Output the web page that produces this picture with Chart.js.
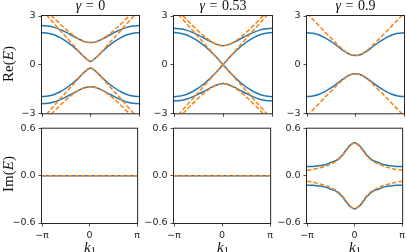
<!DOCTYPE html>
<html>
<head>
<meta charset="utf-8">
<script src="https://cdn.jsdelivr.net/npm/chart.js@4.4.1/dist/chart.umd.min.js"></script>
<style>
  html, body { margin: 0; padding: 0; background: #fff; }
  body { width: 407px; height: 252px; position: relative; overflow: hidden; }
  canvas { position: absolute; }
  .lbl { position: absolute; font-family: "Liberation Serif", "DejaVu Serif", serif; color: #111; white-space: nowrap; }
  .ttl { font-size: 14px; line-height: 14px; text-align: center; word-spacing: 1px; }
  .ylab { font-size: 15px; line-height: 15px; transform: translate(-50%, -50%) rotate(-90deg); }
  .xlab { font-size: 15px; line-height: 15px; transform: translate(-50%, -50%); }
  .xlab sub { font-size: 70%; vertical-align: -2px; line-height: 0; font-style: normal; }
</style>
</head>
<body>
<canvas id="re0"></canvas>
<canvas id="re1"></canvas>
<canvas id="re2"></canvas>
<canvas id="im0"></canvas>
<canvas id="im1"></canvas>
<canvas id="im2"></canvas>

<div class="lbl ttl" style="left:42px;width:97px;top:-1px"><i>γ</i> = 0</div>
<div class="lbl ttl" style="left:174px;width:98px;top:-1px"><i>γ</i> = 0.53</div>
<div class="lbl ttl" style="left:307px;width:97px;top:-1px"><i>γ</i> = 0.9</div>
<div class="lbl ylab" style="left:8px;top:64px">Re(<i>E</i>)</div>
<div class="lbl ylab" style="left:8px;top:174px">Im(<i>E</i>)</div>
<div class="lbl xlab" style="left:90px;top:247px"><i>k</i><sub>1</sub></div>
<div class="lbl xlab" style="left:223px;top:247px"><i>k</i><sub>1</sub></div>
<div class="lbl xlab" style="left:355px;top:247px"><i>k</i><sub>1</sub></div>

<script>
"use strict";

// momentum grid, -pi .. pi
var k = [-3.1416, -2.7489, -2.3562, -1.9635, -1.5708, -1.1781, -0.7854, -0.3927, 0,
          0.3927, 0.7854, 1.1781, 1.5708, 1.9635, 2.3562, 2.7489, 3.1416];
var kTicks = [-3.1416, 0, 3.1416];
var kLabels = ['−π', '0', 'π'];
var reTicks = [-3, 0, 3];
var reLabels = ['−3', '0', '3'];
var imTicks = [-0.6, 0, 0.6];
var imLabels = ['−0.6', '0.0', '0.6'];

// gamma = 0
var g0BlueOuter = [2.41, 2.38, 2.30, 2.16, 1.99, 1.79, 1.59, 1.42, 1.36, 1.42, 1.59, 1.79, 1.99, 2.16, 2.30, 2.38, 2.41];
var g0BlueInner = [1.97, 1.94, 1.84, 1.67, 1.44, 1.16, 0.83, 0.46, 0.20, 0.46, 0.83, 1.16, 1.44, 1.67, 1.84, 1.94, 1.97];
var g0BlueInnerNeg = [-1.97, -1.94, -1.84, -1.67, -1.44, -1.16, -0.83, -0.46, -0.20, -0.46, -0.83, -1.16, -1.44, -1.67, -1.84, -1.94, -1.97];
var g0BlueOuterNeg = [-2.41, -2.38, -2.30, -2.16, -1.99, -1.79, -1.59, -1.42, -1.36, -1.42, -1.59, -1.79, -1.99, -2.16, -2.30, -2.38, -2.41];
var g0OrangeOuter = [3.63, 3.24, 2.87, 2.50, 2.16, 1.85, 1.60, 1.42, 1.36, 1.42, 1.60, 1.85, 2.16, 2.50, 2.87, 3.24, 3.63];
var g0OrangeInner = [3.37, 2.95, 2.53, 2.11, 1.69, 1.28, 0.86, 0.47, 0.20, 0.47, 0.86, 1.28, 1.69, 2.11, 2.53, 2.95, 3.37];
var g0OrangeInnerNeg = [-3.37, -2.95, -2.53, -2.11, -1.69, -1.28, -0.86, -0.47, -0.20, -0.47, -0.86, -1.28, -1.69, -2.11, -2.53, -2.95, -3.37];
var g0OrangeOuterNeg = [-3.63, -3.24, -2.87, -2.50, -2.16, -1.85, -1.60, -1.42, -1.36, -1.42, -1.60, -1.85, -2.16, -2.50, -2.87, -3.24, -3.63];

// gamma = 0.53
var g1BlueOuter = [2.24, 2.21, 2.13, 1.99, 1.82, 1.62, 1.42, 1.25, 1.17, 1.25, 1.42, 1.62, 1.82, 1.99, 2.13, 2.21, 2.24];
var g1BlueInner = [1.98, 1.94, 1.84, 1.67, 1.44, 1.15, 0.81, 0.42, 0, 0.42, 0.81, 1.15, 1.44, 1.67, 1.84, 1.94, 1.98];
var g1BlueInnerNeg = [-1.98, -1.94, -1.84, -1.67, -1.44, -1.15, -0.81, -0.42, 0, -0.42, -0.81, -1.15, -1.44, -1.67, -1.84, -1.94, -1.98];
var g1BlueOuterNeg = [-2.24, -2.21, -2.13, -1.99, -1.82, -1.62, -1.42, -1.25, -1.17, -1.25, -1.42, -1.62, -1.82, -1.99, -2.13, -2.21, -2.24];
var g1OrangeOuter = [3.59, 3.19, 2.80, 2.42, 2.06, 1.73, 1.45, 1.25, 1.17, 1.25, 1.45, 1.73, 2.06, 2.42, 2.80, 3.19, 3.59];
var g1OrangeInner = [3.39, 2.97, 2.55, 2.12, 1.70, 1.27, 0.85, 0.42, 0, 0.42, 0.85, 1.27, 1.70, 2.12, 2.55, 2.97, 3.39];
var g1OrangeInnerNeg = [-3.39, -2.97, -2.55, -2.12, -1.70, -1.27, -0.85, -0.42, 0, -0.42, -0.85, -1.27, -1.70, -2.12, -2.55, -2.97, -3.39];
var g1OrangeOuterNeg = [-3.59, -3.19, -2.80, -2.42, -2.06, -1.73, -1.45, -1.25, -1.17, -1.25, -1.45, -1.73, -2.06, -2.42, -2.80, -3.19, -3.59];

// gamma = 0.9
var g2ReBlue = [1.97, 1.93, 1.83, 1.65, 1.42, 1.15, 0.87, 0.64, 0.56, 0.64, 0.87, 1.15, 1.42, 1.65, 1.83, 1.93, 1.97];
var g2ReBlueNeg = [-1.97, -1.93, -1.83, -1.65, -1.42, -1.15, -0.87, -0.64, -0.56, -0.64, -0.87, -1.15, -1.42, -1.65, -1.83, -1.93, -1.97];
var g2ReOrange = [3.16, 2.78, 2.39, 2.00, 1.62, 1.25, 0.91, 0.65, 0.56, 0.65, 0.91, 1.25, 1.62, 2.00, 2.39, 2.78, 3.16];
var g2ReOrangeNeg = [-3.16, -2.78, -2.39, -2.00, -1.62, -1.25, -0.91, -0.65, -0.56, -0.65, -0.91, -1.25, -1.62, -2.00, -2.39, -2.78, -3.16];
var g2ImBlue = [0.12, 0.12, 0.13, 0.14, 0.17, 0.20, 0.27, 0.37, 0.42, 0.37, 0.27, 0.20, 0.17, 0.14, 0.13, 0.12, 0.12];
var g2ImBlueNeg = [-0.12, -0.12, -0.13, -0.14, -0.17, -0.20, -0.27, -0.37, -0.42, -0.37, -0.27, -0.20, -0.17, -0.14, -0.13, -0.12, -0.12];
var g2ImOrange = [0.07, 0.08, 0.10, 0.12, 0.15, 0.19, 0.26, 0.36, 0.42, 0.36, 0.26, 0.19, 0.15, 0.12, 0.10, 0.08, 0.07];
var g2ImOrangeNeg = [-0.07, -0.08, -0.10, -0.12, -0.15, -0.19, -0.26, -0.36, -0.42, -0.36, -0.26, -0.19, -0.15, -0.12, -0.10, -0.08, -0.07];

// gamma = 0 and 0.53: purely real spectrum
var zeroIm = [0, 0, 0, 0, 0, 0, 0, 0, 0, 0, 0, 0, 0, 0, 0, 0, 0];

var blue = '#1f77b4';
var orange = '#ff7f0e';
var ink = '#262626';

// plot area corners in the page
var colLeft = [42, 174, 307];
var colRight = [139, 272, 404];
var rowTop = [16, 127];
var rowBottom = [114, 223];

var boxPlugin = {
    id: 'box',
    afterDraw: function (chart) {
        var a = chart.chartArea;
        var ctx = chart.ctx;
        ctx.save();
        ctx.strokeStyle = ink;
        ctx.lineWidth = 1;
        ctx.strokeRect(a.left - 0.5, a.top - 0.5, a.right - a.left + 1, a.bottom - a.top + 1);
        ctx.restore();
    }
};

function Line(values, color, dashed, straight) {
    return {
        data: k.map(function (x, i) { return { x: x, y: values[i] }; }),
        borderColor: color,
        borderWidth: 1.5,
        borderDash: dashed ? [4.5, 2] : [],
        pointRadius: 0,
        fill: false,
        clip: 0,
        tension: 0,
        cubicInterpolationMode: straight ? 'default' : 'monotone'
    };
}

function MakePanel(id, col, row, datasets) {
    var canvas = document.getElementById(id);
    var top = row == 0 ? 0 : 120;
    var height = row == 0 ? 122 : 132;
    var left = colLeft[col] - 42;
    var width = colRight[col] - colLeft[col] + 46;
    canvas.width = width;
    canvas.height = height;
    canvas.style.left = left + 'px';
    canvas.style.top = top + 'px';
    var xHeight = height - (rowBottom[row] - top);
    var yTicks = row == 0 ? reTicks : imTicks;
    var yLabels = row == 0 ? reLabels : imLabels;
    var tickFont = { family: 'DejaVu Sans', size: 9.5 };

    new Chart(canvas, {
        type: 'line',
        data: { datasets: datasets },
        options: {
            responsive: false,
            animation: false,
            devicePixelRatio: 1,
            layout: { padding: { left: 0, right: 4, top: rowTop[row] - top, bottom: 0 } },
            plugins: { legend: { display: false }, tooltip: { enabled: false }, title: { display: false } },
            scales: {
                x: {
                    type: 'linear',
                    min: kTicks[0],
                    max: kTicks[2],
                    afterBuildTicks: function (axis) { axis.ticks = kTicks.map(function (v) { return { value: v }; }); },
                    afterFit: function (axis) { axis.height = xHeight; },
                    grid: { drawOnChartArea: false, drawTicks: true, tickLength: 3.5, tickWidth: 0.8, tickColor: ink },
                    border: { display: false },
                    ticks: {
                        display: row == 1,
                        autoSkip: false,
                        maxRotation: 0,
                        padding: 3,
                        color: ink,
                        font: tickFont,
                        callback: function (v, i) { return kLabels[i]; }
                    }
                },
                y: {
                    type: 'linear',
                    min: yTicks[0],
                    max: yTicks[2],
                    afterBuildTicks: function (axis) { axis.ticks = yTicks.map(function (v) { return { value: v }; }); },
                    afterFit: function (axis) { axis.width = 42; },
                    grid: { drawOnChartArea: false, drawTicks: true, tickLength: 3.5, tickWidth: 0.8, tickColor: ink },
                    border: { display: false },
                    ticks: {
                        autoSkip: false,
                        padding: 3,
                        color: ink,
                        font: tickFont,
                        callback: function (v, i) { return yLabels[i]; }
                    }
                }
            }
        },
        plugins: [boxPlugin]
    });
}

// orange first so it is painted over the blue
MakePanel('re0', 0, 0, [
    Line(g0OrangeOuter, orange, true), Line(g0OrangeInner, orange, true),
    Line(g0OrangeInnerNeg, orange, true), Line(g0OrangeOuterNeg, orange, true),
    Line(g0BlueOuter, blue), Line(g0BlueInner, blue),
    Line(g0BlueInnerNeg, blue), Line(g0BlueOuterNeg, blue)
]);
MakePanel('re1', 1, 0, [
    Line(g1OrangeOuter, orange, true), Line(g1OrangeInner, orange, true, true),
    Line(g1OrangeInnerNeg, orange, true, true), Line(g1OrangeOuterNeg, orange, true),
    Line(g1BlueOuter, blue), Line(g1BlueInner, blue, false, true),
    Line(g1BlueInnerNeg, blue, false, true), Line(g1BlueOuterNeg, blue)
]);
MakePanel('re2', 2, 0, [
    Line(g2ReOrange, orange, true), Line(g2ReOrangeNeg, orange, true),
    Line(g2ReBlue, blue), Line(g2ReBlueNeg, blue)
]);
MakePanel('im0', 0, 1, [Line(zeroIm, orange, true), Line(zeroIm, blue)]);
MakePanel('im1', 1, 1, [Line(zeroIm, orange, true), Line(zeroIm, blue)]);
MakePanel('im2', 2, 1, [
    Line(g2ImOrange, orange, true), Line(g2ImOrangeNeg, orange, true),
    Line(g2ImBlue, blue), Line(g2ImBlueNeg, blue)
]);
</script>
</body>
</html>
